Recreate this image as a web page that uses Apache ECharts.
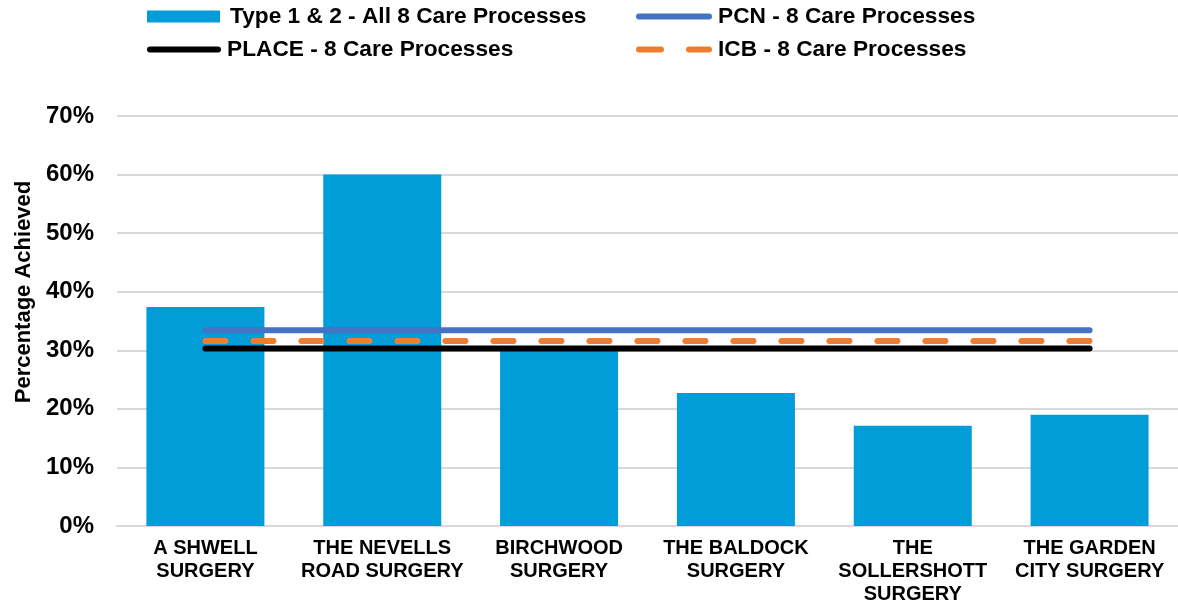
<!DOCTYPE html>
<html>
<head>
<meta charset="utf-8">
<script src="https://cdn.jsdelivr.net/npm/echarts@6/dist/echarts.min.js"></script>
<style>
html,body{margin:0;padding:0;background:#fff;}
#chart{width:1178px;height:606px;}
</style>
</head>
<body>
<div id="chart"></div>
<script>
const categories = [
  "A SHWELL\nSURGERY",
  "THE NEVELLS\nROAD SURGERY",
  "BIRCHWOOD\nSURGERY",
  "THE BALDOCK\nSURGERY",
  "THE\nSOLLERSHOTT\nSURGERY",
  "THE GARDEN\nCITY SURGERY"
];
const practiceValues = [37.4, 60.0, 30.1, 22.7, 17.1, 19.0];
const pcnValues = [33.4, 33.4, 33.4, 33.4, 33.4, 33.4];
const placeValues = [30.3, 30.3, 30.3, 30.3, 30.3, 30.3];
const icbValues = [31.6, 31.6, 31.6, 31.6, 31.6, 31.6];
const seriesNames = [
  "Type 1 & 2 - All 8 Care Processes",
  "PCN - 8 Care Processes",
  "PLACE - 8 Care Processes",
  "ICB - 8 Care Processes"
];
const yTicks = { min: 0, max: 70, interval: 10 };

const FONT = '"Liberation Sans", Arial, sans-serif';
const chart = echarts.init(document.getElementById('chart'), null, { renderer: 'canvas' });

const SOLID_ICON = 'path://M3,0 L73,0 A3,3 0 0 1 73,6 L3,6 A3,3 0 0 1 3,0 Z';
const DASH_ICON = 'path://M3,0 L25,0 A3,3 0 0 1 25,6 L3,6 A3,3 0 0 1 3,0 Z M53,0 L73,0 A3,3 0 0 1 73,6 L53,6 A3,3 0 0 1 53,0 Z';

function legendText(pad) {
  return { fontFamily: FONT, fontSize: 22.7, fontWeight: 'bold', color: '#000', padding: [0, 0, 0, pad] };
}
function legendAt(name, left, top, extra) {
  return Object.assign({
    data: [name], left: left, top: top, orient: 'horizontal',
    itemWidth: 76, itemHeight: 6, itemGap: 0, padding: 0,
    textStyle: legendText(1), selectedMode: false,
    itemStyle: { borderWidth: 0 }
  }, extra || {});
}

const option = {
  animation: false,
  backgroundColor: '#fff',
  legend: [
    legendAt(seriesNames[0], 147, 5, { icon: 'rect', itemWidth: 73, itemHeight: 12, textStyle: legendText(5) }),
    legendAt(seriesNames[1], 636, 5, { icon: SOLID_ICON }),
    legendAt(seriesNames[2], 147, 38, { icon: SOLID_ICON, itemWidth: 74 }),
    legendAt(seriesNames[3], 636, 38, { icon: DASH_ICON })
  ],
  grid: { left: 117, top: 116, width: 1066, bottom: 79, containLabel: false },
  xAxis: {
    type: 'category',
    data: categories,
    boundaryGap: true,
    axisTick: { show: false },
    axisLine: { show: true, lineStyle: { color: '#D9D9D9', width: 2 } },
    axisLabel: {
      interval: 0, margin: 11, fontFamily: FONT, fontSize: 20, fontWeight: 'bold',
      color: '#000', lineHeight: 23, align: 'center'
    }
  },
  yAxis: {
    type: 'value',
    min: yTicks.min, max: yTicks.max, interval: yTicks.interval,
    name: 'Percentage Achieved',
    nameLocation: 'middle',
    nameGap: 82,
    nameRotate: 90,
    nameTextStyle: { fontFamily: FONT, fontSize: 22, fontWeight: 'bold', color: '#000', padding: [0, 0, 0, 58] },
    axisLine: { show: false },
    axisTick: { show: false },
    axisLabel: { formatter: '{value}%', margin: 23, fontFamily: FONT, fontSize: 24, fontWeight: 'bold', color: '#000' },
    splitLine: { show: true, lineStyle: { color: '#D9D9D9', width: 2 } }
  },
  series: [
    {
      name: seriesNames[0], type: 'bar', data: practiceValues,
      barWidth: 118, itemStyle: { color: '#009DD9' }, z: 1
    },
    {
      name: seriesNames[1], type: 'line', data: pcnValues, symbol: 'none', showSymbol: false,
      lineStyle: { color: '#4472C4', width: 6, cap: 'round' }, itemStyle: { color: '#4472C4' }, z: 4
    },
    {
      name: seriesNames[2], type: 'line', data: placeValues, symbol: 'none', showSymbol: false,
      lineStyle: { color: '#000000', width: 6, cap: 'round' }, itemStyle: { color: '#000000' }, z: 3
    },
    {
      name: seriesNames[3], type: 'line', data: icbValues, symbol: 'none', showSymbol: false,
      lineStyle: { color: '#ED7D31', width: 6, type: [20, 28], cap: 'round' }, itemStyle: { color: '#ED7D31' }, z: 3
    }
  ]
};
chart.setOption(option);
</script>
</body>
</html>
